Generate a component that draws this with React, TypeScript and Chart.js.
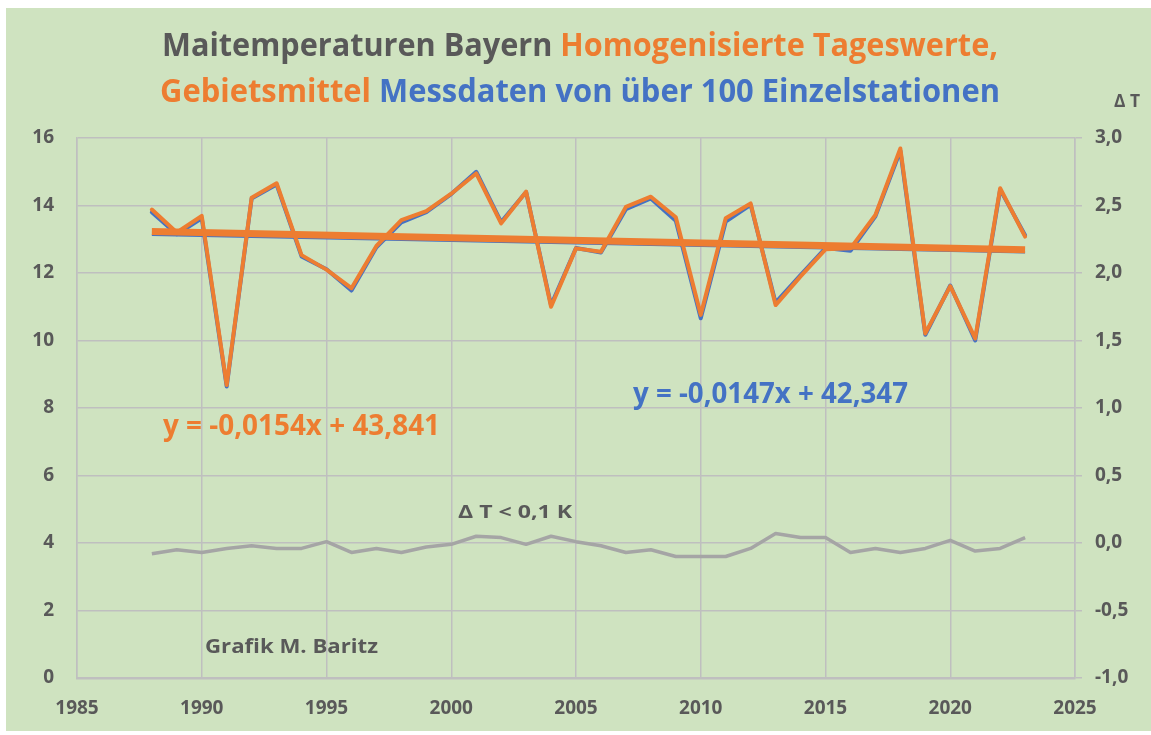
import React, { useEffect, useRef } from "react";
import { Chart, registerables } from "chart.js";

Chart.register(...registerables);

// ---------- data ----------
const years = [
  1988, 1989, 1990, 1991, 1992, 1993, 1994, 1995, 1996, 1997, 1998, 1999,
  2000, 2001, 2002, 2003, 2004, 2005, 2006, 2007, 2008, 2009, 2010, 2011,
  2012, 2013, 2014, 2015, 2016, 2017, 2018, 2019, 2020, 2021, 2022, 2023,
];
// Homogenisierte Tageswerte, Gebietsmittel (orange)
const gebietsmittel = [
  13.88, 13.2, 13.69, 8.68, 14.23, 14.66, 12.53, 12.1, 11.55, 12.8, 13.57, 13.83,
  14.35, 14.95, 13.47, 14.41, 11.0, 12.73, 12.63, 13.96, 14.26, 13.65, 10.76, 13.62,
  14.06, 11.05, 11.9, 12.7, 12.73, 13.72, 15.69, 10.21, 11.61, 10.06, 14.51, 13.08,
];
// Messdaten von über 100 Einzelstationen (blue)
const messdaten = [
  13.8, 13.15, 13.62, 8.64, 14.21, 14.62, 12.49, 12.11, 11.48, 12.76, 13.5, 13.8,
  14.34, 15.0, 13.51, 14.4, 11.05, 12.74, 12.61, 13.89, 14.21, 13.55, 10.66, 13.52,
  14.02, 11.12, 11.94, 12.74, 12.66, 13.68, 15.62, 10.17, 11.63, 10.0, 14.47, 13.12,
];
// Delta T (right axis)
const deltaT = [
  -0.08, -0.05, -0.07, -0.04, -0.02, -0.04, -0.04, 0.01, -0.07, -0.04, -0.07, -0.03,
  -0.01, 0.05, 0.04, -0.01, 0.05, 0.01, -0.02, -0.07, -0.05, -0.1, -0.1, -0.1,
  -0.04, 0.07, 0.04, 0.04, -0.07, -0.04, -0.07, -0.04, 0.02, -0.06, -0.04, 0.04,
];
// linear trends (endpoints)
const trendYears = [1988, 2023];
const trendGebiet = [13.226, 12.687];
const trendMess = [13.123, 12.609];

const xRange = [1985, 2025];
const yRange = [0, 16];
const y2Range = [-1, 3];

const titleLine1 = [
  ["Maitemperaturen Bayern ", "#595959"],
  ["Homogenisierte Tageswerte,", "#ED7D31"],
];
const titleLine2 = [
  ["Gebietsmittel ", "#ED7D31"],
  ["Messdaten von über 100 Einzelstationen", "#4472C4"],
];
const eqGebiet = "y = -0,0154x + 43,841";
const eqMess = "y = -0,0147x + 42,347";
const deltaNote = "Δ T < 0,1 K";
const credit = "Grafik M. Baritz";
const rightAxisTitle = "Δ T";

// ---------- styles ----------
const FONT = "'Open Sans', 'DejaVu Sans', sans-serif";
const ORANGE = "#ED7D31";
const BLUE = "#4472C4";
const GRAY_TEXT = "#595959";
const GRID = "#BFBFBF";
const BG = "#CFE3C0";

type Seg = [string, string];

function fitText(
  ctx: CanvasRenderingContext2D,
  segs: Seg[],
  x: number,
  baseline: number,
  size: number,
  width: number
) {
  ctx.save();
  ctx.font = `bold ${size}px ${FONT}`;
  const total = segs.reduce((s, [t]) => s + ctx.measureText(t).width, 0);
  const sx = width / total;
  ctx.translate(x, baseline);
  ctx.scale(sx, 1);
  ctx.textBaseline = "alphabetic";
  ctx.textAlign = "left";
  let cx = 0;
  for (const [t, c] of segs) {
    ctx.fillStyle = c;
    ctx.fillText(t, cx, 0);
    cx += ctx.measureText(t).width;
  }
  ctx.restore();
}

const decorPlugin = {
  id: "decor",
  beforeDraw(chart: any) {
    const ctx = chart.ctx as CanvasRenderingContext2D;
    ctx.save();
    ctx.fillStyle = "#FFFFFF";
    ctx.fillRect(0, 0, chart.width, chart.height);
    ctx.fillStyle = BG;
    ctx.fillRect(6, 8, chart.width - 6, 723);
    ctx.restore();
  },
  afterDraw(chart: any) {
    const ctx = chart.ctx as CanvasRenderingContext2D;
    fitText(ctx, titleLine1 as Seg[], 162, 56, 33, 836);
    fitText(ctx, titleLine2 as Seg[], 160, 102, 33, 840);
    fitText(ctx, [[eqGebiet, ORANGE]], 163, 435, 28, 277);
    fitText(ctx, [[eqMess, BLUE]], 633, 403, 28, 275);
    fitText(ctx, [[deltaNote, GRAY_TEXT]], 458, 518, 18, 114);
    fitText(ctx, [[credit, GRAY_TEXT]], 205, 653, 19, 173);
    fitText(ctx, [[rightAxisTitle, GRAY_TEXT]], 1114, 107, 18, 26);
  },
};

const tickFont = { family: FONT, size: 19, weight: "bold" as const };

export default function App() {
  const ref = useRef<HTMLCanvasElement | null>(null);

  useEffect(() => {
    if (!ref.current) return;
    const pts = (xs: number[], ys: number[]) => xs.map((x, i) => ({ x, y: ys[i] }));
    const chart = new Chart(ref.current, {
      type: "line",
      data: {
        datasets: [
          {
            label: "Trend Gebietsmittel",
            data: pts(trendYears, trendGebiet),
            borderColor: ORANGE,
            borderWidth: 7,
            pointRadius: 0,
            yAxisID: "y",
            order: 0,
          },
          {
            label: "Gebietsmittel",
            data: pts(years, gebietsmittel),
            borderColor: ORANGE,
            borderWidth: 4,
            pointRadius: 0,
            borderJoinStyle: "round",
            borderCapStyle: "round",
            yAxisID: "y",
            order: 1,
          },
          {
            label: "Trend Messdaten",
            data: pts(trendYears, trendMess),
            borderColor: BLUE,
            borderWidth: 2,
            pointRadius: 0,
            yAxisID: "y",
            order: 2,
          },
          {
            label: "Messdaten",
            data: pts(years, messdaten),
            borderColor: BLUE,
            borderWidth: 4,
            pointRadius: 0,
            borderJoinStyle: "round",
            borderCapStyle: "round",
            yAxisID: "y",
            order: 3,
          },
          {
            label: "Delta T",
            data: pts(years, deltaT),
            borderColor: "#A5A5A5",
            borderWidth: 3.5,
            pointRadius: 0,
            borderJoinStyle: "round",
            yAxisID: "y2",
            order: 4,
          },
        ],
      },
      options: {
        animation: false,
        responsive: false,
        events: [],
        layout: { padding: { top: 138, left: 0, right: 0, bottom: 0 } },
        plugins: {
          legend: { display: false },
          tooltip: { enabled: false },
          title: { display: false },
        },
        scales: {
          x: {
            type: "linear",
            min: xRange[0],
            max: xRange[1],
            ticks: {
              stepSize: 5,
              padding: 19,
              color: GRAY_TEXT,
              font: tickFont,
              maxRotation: 0,
              callback: (v: any) => String(v),
            },
            grid: { color: GRID, lineWidth: 1.5, drawTicks: false },
            border: { color: GRID, width: 2.5 },
            afterFit: (s: any) => {
              s.height = 57;
            },
          },
          y: {
            position: "left",
            min: yRange[0],
            max: yRange[1],
            ticks: {
              stepSize: 2,
              padding: 23,
              color: GRAY_TEXT,
              font: tickFont,
            },
            grid: { color: GRID, lineWidth: 1.5, drawTicks: false },
            border: { color: GRID, width: 1.5 },
            afterFit: (s: any) => {
              s.width = 77;
            },
          },
          y2: {
            position: "right",
            min: y2Range[0],
            max: y2Range[1],
            ticks: {
              stepSize: 0.5,
              padding: 13,
              color: GRAY_TEXT,
              font: tickFont,
              callback: (v: any) => Number(v).toFixed(1).replace(".", ","),
            },
            grid: {
              drawOnChartArea: false,
              drawTicks: true,
              tickLength: 7,
              color: GRID,
              lineWidth: 1.5,
            },
            border: { color: GRID, width: 1.5 },
            afterFit: (s: any) => {
              s.width = 76;
            },
          },
        },
      },
      plugins: [decorPlugin],
    });
    return () => chart.destroy();
  }, []);

  return (
    <div style={{ position: "absolute", left: 0, top: 0, width: 1151, height: 735 }}>
      <canvas ref={ref} width={1151} height={735} style={{ display: "block" }} />
    </div>
  );
}
